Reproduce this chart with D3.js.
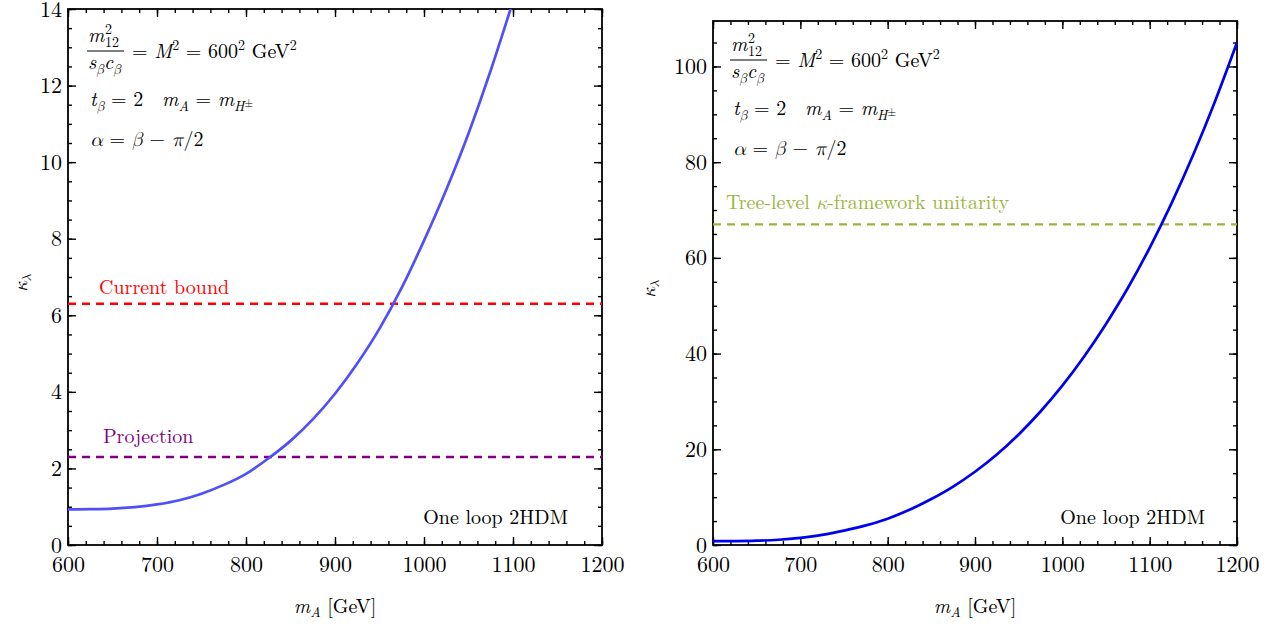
<!DOCTYPE html>
<html>
<head>
<meta charset="utf-8">
<script src="https://cdn.jsdelivr.net/npm/d3@7"></script>
<style>
  html, body { margin: 0; padding: 0; background: #fff; }
</style>
</head>
<body>
<svg id="chart" width="1288" height="626"></svg>
<script>
// ---------------- data ----------------
const massLeft = [600, 625, 650, 675, 700, 725, 750, 775, 800, 825, 850, 875, 900, 925, 950, 975, 1000, 1025, 1050, 1075, 1100];
const kappaLeft = [0.93, 0.935, 0.95, 0.99, 1.06, 1.17, 1.34, 1.57, 1.86, 2.26, 2.72, 3.28, 3.95, 4.74, 5.65, 6.72, 7.95, 9.28, 10.75, 12.4, 14.2];

const massRight = [600, 625, 650, 675, 700, 725, 750, 775, 800, 825, 850, 875, 900, 925, 950, 975, 1000, 1025, 1050, 1075, 1100, 1125, 1150, 1175, 1200];
const kappaRight = [0.8, 0.82, 0.9, 1.1, 1.5, 2.1, 3.0, 4.1, 5.5, 7.35, 9.6, 12.2, 15.3, 18.9, 23.1, 27.9, 33.3, 39.4, 46.2, 53.7, 62.1, 71.4, 81.6, 92.8, 105.0];

const currentBound = 6.3;
const projection = 2.3;
const unitarityBound = 67;

const xDomain = [600, 1200];
const xMajorTicks = [600, 700, 800, 900, 1000, 1100, 1200];
const xMinorTicks = d3.range(600, 1201, 20);
const leftYDomain = [0, 14];
const leftYMajorTicks = [0, 2, 4, 6, 8, 10, 12, 14];
const leftYMinorTicks = d3.range(0, 14.01, 0.5);
const rightYDomain = [0, 109.5];
const rightYMajorTicks = [0, 20, 40, 60, 80, 100];
const rightYMinorTicks = d3.range(0, 106, 5);

// ---------------- drawing ----------------
const FONT = '"Latin Modern Roman", "CMU Serif", "Latin Modern Math", "Liberation Serif", serif';
const svg = d3.select("#chart");

function frame(p, yDomain, yMajor, yMinor, id) {
  const x = d3.scaleLinear().domain(xDomain).range([p.left, p.right]);
  const y = d3.scaleLinear().domain(yDomain).range([p.bottom, p.top]);
  const g = svg.append("g");

  g.append("clipPath").attr("id", id).append("rect")
    .attr("x", p.left).attr("y", p.top)
    .attr("width", p.right - p.left).attr("height", p.bottom - p.top);

  const fmt = d => d3.format("d")(d);
  const styleAxis = sel => {
    sel.attr("font-family", null);
    sel.select(".domain").remove();
    sel.selectAll(".tick line").attr("stroke", "#000").attr("stroke-width", 1.4);
    sel.selectAll("text").attr("font-size", 22).attr("fill", "#000");
  };
  // bottom
  g.append("g").attr("transform", `translate(0,${p.bottom})`)
    .call(d3.axisBottom(x).tickValues(xMinorTicks).tickSize(-4).tickFormat(""))
    .call(styleAxis);
  g.append("g").attr("transform", `translate(0,${p.bottom})`)
    .call(d3.axisBottom(x).tickValues(xMajorTicks).tickSize(-8).tickPadding(11).tickFormat(fmt))
    .call(styleAxis);
  // top
  g.append("g").attr("transform", `translate(0,${p.top})`)
    .call(d3.axisTop(x).tickValues(xMinorTicks).tickSize(-4).tickFormat(""))
    .call(styleAxis);
  g.append("g").attr("transform", `translate(0,${p.top})`)
    .call(d3.axisTop(x).tickValues(xMajorTicks).tickSize(-8).tickFormat(""))
    .call(styleAxis);
  // left
  g.append("g").attr("transform", `translate(${p.left},0)`)
    .call(d3.axisLeft(y).tickValues(yMinor).tickSize(-4).tickFormat(""))
    .call(styleAxis);
  g.append("g").attr("transform", `translate(${p.left},0)`)
    .call(d3.axisLeft(y).tickValues(yMajor).tickSize(-8).tickPadding(6).tickFormat(fmt))
    .call(styleAxis);
  // right
  g.append("g").attr("transform", `translate(${p.right},0)`)
    .call(d3.axisRight(y).tickValues(yMinor).tickSize(-4).tickFormat(""))
    .call(styleAxis);
  g.append("g").attr("transform", `translate(${p.right},0)`)
    .call(d3.axisRight(y).tickValues(yMajor).tickSize(-8).tickFormat(""))
    .call(styleAxis);

  g.append("rect").attr("x", p.left).attr("y", p.top)
    .attr("width", p.right - p.left).attr("height", p.bottom - p.top)
    .attr("fill", "none").attr("stroke", "#000").attr("stroke-width", 1.8);

  // axis titles
  const cx = (p.left + p.right) / 2;
  g.append("text").attr("x", cx).attr("y", 613).attr("text-anchor", "middle")
    .attr("font-size", 20)
    .html('<tspan font-style="italic">m</tspan><tspan font-style="italic" font-size="14" dy="4">A</tspan><tspan dy="-4"> [GeV]</tspan>');
  g.append("text").attr("transform", `translate(${p.ylabX},${(p.top + p.bottom) / 2 + 6}) rotate(-90)`)
    .attr("text-anchor", "middle").attr("font-size", 19)
    .html('<tspan font-style="italic">κ</tspan><tspan font-style="italic" font-size="13" dy="4">λ</tspan>');
  return { x, y, g };
}

function params(g, x0, y0) {
  // fraction m12^2 / (s_beta c_beta)
  g.append("text").attr("x", x0).attr("y", y0 + 42).attr("font-size", 20).attr("font-style", "italic").text("m");
  g.append("text").attr("x", x0 + 17).attr("y", y0 + 34).attr("font-size", 14).text("2");
  g.append("text").attr("x", x0 + 17).attr("y", y0 + 47).attr("font-size", 14).text("12");
  g.append("line").attr("x1", x0 - 1).attr("x2", x0 + 36).attr("y1", y0 + 51).attr("y2", y0 + 51)
    .attr("stroke", "#000").attr("stroke-width", 1);
  g.append("text").attr("x", x0).attr("y", y0 + 69).attr("font-size", 20)
    .html('<tspan font-style="italic">s</tspan><tspan font-style="italic" font-size="14" dy="5">β</tspan><tspan font-style="italic" dy="-5">c</tspan><tspan font-style="italic" font-size="14" dy="5">β</tspan>');
  g.append("text").attr("x", x0 + 44).attr("y", y0 + 58).attr("font-size", 20)
    .html('= <tspan font-style="italic">M</tspan><tspan font-size="14" dy="-8">2</tspan><tspan dy="8"> = 600</tspan><tspan font-size="14" dy="-8">2</tspan><tspan dy="8"> GeV</tspan><tspan font-size="14" dy="-8">2</tspan>');
  // t_beta = 2   m_A = m_H±
  g.append("text").attr("x", x0 + 2).attr("y", y0 + 106).attr("font-size", 20)
    .html('<tspan font-style="italic">t</tspan><tspan font-style="italic" font-size="14" dy="5">β</tspan><tspan dy="-5"> = 2 </tspan><tspan dx="12" font-style="italic">m</tspan><tspan font-style="italic" font-size="14" dy="5">A</tspan><tspan dy="-5"> = </tspan><tspan font-style="italic">m</tspan><tspan font-style="italic" font-size="14" dy="5">H</tspan><tspan font-size="11" dy="-4">±</tspan>');
  // alpha = beta - pi/2
  g.append("text").attr("x", x0 + 2).attr("y", y0 + 146).attr("font-size", 20)
    .html('<tspan font-style="italic">α</tspan> = <tspan font-style="italic">β</tspan> − <tspan font-style="italic">π</tspan>/2');
}

function curve(F, xs, ys, color, clip) {
  const line = d3.line().x((d, i) => F.x(xs[i])).y(d => F.y(d)).curve(d3.curveMonotoneX);
  F.g.append("path").datum(ys).attr("d", line).attr("fill", "none")
    .attr("stroke", color).attr("stroke-width", 2.7).attr("clip-path", `url(#${clip})`);
}
function hline(F, v, color) {
  F.g.append("line").attr("x1", F.x(xDomain[0])).attr("x2", F.x(xDomain[1]))
    .attr("y1", F.y(v)).attr("y2", F.y(v))
    .attr("stroke", color).attr("stroke-width", 2.4).attr("stroke-dasharray", "8,6");
}

// ---- left panel ----
const PL = { left: 68, right: 602, top: 9, bottom: 545, ylabX: 27 };
const L = frame(PL, leftYDomain, leftYMajorTicks, leftYMinorTicks, "clipL");
hline(L, currentBound, "#ff0000");
hline(L, projection, "#800080");
curve(L, massLeft, kappaLeft, "#5050f8", "clipL");
L.g.append("text").attr("x", 99).attr("y", L.y(currentBound) - 10).attr("font-size", 20)
  .style("fill", "#ff0000").text("Current bound");
L.g.append("text").attr("x", 103).attr("y", L.y(projection) - 14).attr("font-size", 20)
  .style("fill", "#800080").text("Projection");
L.g.append("text").attr("x", 568).attr("y", 524).attr("text-anchor", "end").attr("font-size", 20).text("One loop 2HDM");
params(L.g, 88, 0);

// ---- right panel ----
const PR = { left: 713, right: 1237, top: 21, bottom: 545, ylabX: 655 };
const R = frame(PR, rightYDomain, rightYMajorTicks, rightYMinorTicks, "clipR");
hline(R, unitarityBound, "#9ab53c");
curve(R, massRight, kappaRight, "#0000f0", "clipR");
R.g.append("text").attr("x", 726).attr("y", R.y(unitarityBound) - 15).attr("font-size", 20)
  .style("fill", "#9ab53c")
  .html('Tree-level <tspan font-style="italic">κ</tspan>-framework unitarity');
R.g.append("text").attr("x", 1205).attr("y", 524).attr("text-anchor", "end").attr("font-size", 20).text("One loop 2HDM");
params(R.g, 731, 9);

svg.selectAll("text").style("font-family", FONT);
</script>
</body>
</html>
